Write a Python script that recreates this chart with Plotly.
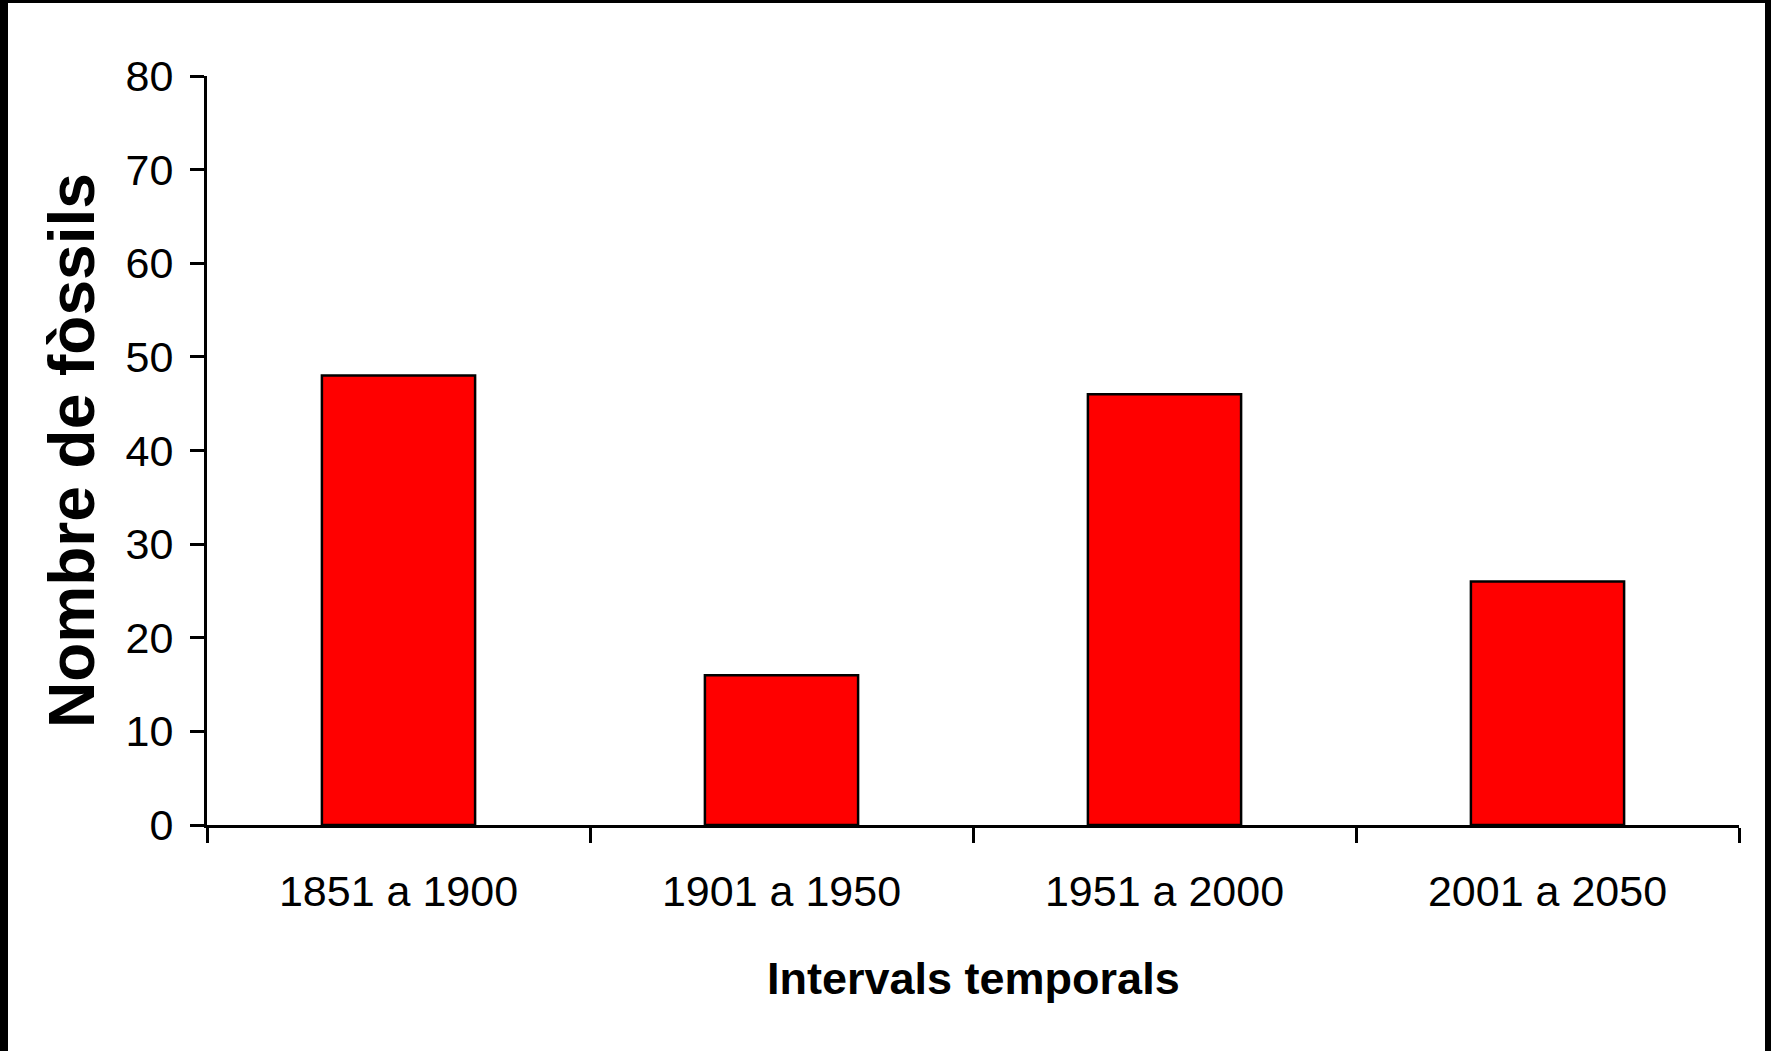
import plotly.graph_objects as go

categories = ["1851 a 1900", "1901 a 1950", "1951 a 2000", "2001 a 2050"]
values = [48, 16, 46, 26]
y_ticks = [0, 10, 20, 30, 40, 50, 60, 70, 80]

W, H = 1771, 1051
ML, MR, MT, MB = 207, 32, 76, 226
PW = W - ML - MR
PH = H - MT - MB

def px_x(p):
    return (p - ML) / PW

def px_y(p):
    return (H - MB - p) / PH

FONT = "Liberation Sans, Arial, sans-serif"

fig = go.Figure(go.Bar(
    x=categories, y=values,
    marker=dict(color="#FF0000", line=dict(color="black", width=2.5)),
    hoverinfo="skip",
))

fig.update_layout(
    width=W, height=H,
    margin=dict(l=ML, r=MR, t=MT, b=MB, autoexpand=False),
    paper_bgcolor="white", plot_bgcolor="white",
    bargap=0.6, showlegend=False,
    font=dict(family=FONT, color="black"),
)
fig.update_xaxes(
    showline=True, linecolor="black", linewidth=3,
    ticks="outside", tickson="boundaries", ticklen=15, tickwidth=2.5, tickcolor="black",
    tickfont=dict(size=43, family=FONT), showgrid=False, zeroline=False,
    ticklabelstandoff=26,
)
fig.update_yaxes(
    range=[0, 80], tickvals=y_ticks, showline=True, linecolor="black", linewidth=3,
    ticks="outside", ticklen=14, tickwidth=2.5, tickcolor="black",
    tickfont=dict(size=43, family=FONT), showgrid=False, zeroline=False,
    ticklabelstandoff=8,
)

fig.add_annotation(
    text="<b>Intervals temporals</b>", xref="paper", yref="paper",
    x=0.5, y=0, yshift=-153, xanchor="center", yanchor="middle",
    showarrow=False, font=dict(size=45, family=FONT, color="black"),
)
fig.add_annotation(
    text="<b>Nombre de fòssils</b>", xref="paper", yref="paper",
    x=0, xshift=-135, y=px_y(451), xanchor="center", yanchor="middle",
    textangle=-90, showarrow=False, font=dict(size=64, family=FONT, color="black"),
)

# black frame on left, top and right edges
for (x0, y0, x1, y1) in [(0, 0, 8, H), (0, 0, W, 3), (W - 6, 0, W, H)]:
    fig.add_shape(type="rect", xref="paper", yref="paper",
                  x0=px_x(x0), x1=px_x(x1), y0=px_y(y1), y1=px_y(y0),
                  fillcolor="black", line=dict(width=0), layer="above")

fig.write_html("out.html", config={"displayModeBar": False},
               post_script="document.body.style.margin='0';")
